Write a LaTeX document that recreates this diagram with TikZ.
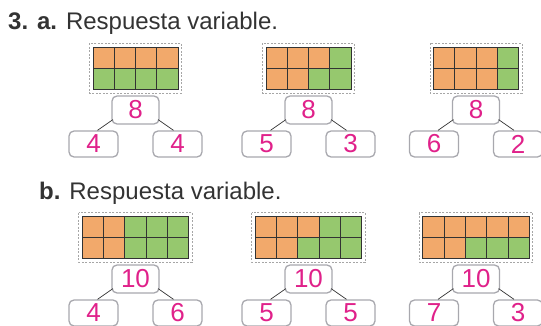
\documentclass[tikz,border=0pt]{standalone}
\usepackage{fontspec}
\setmainfont{Liberation Sans}
\definecolor{cellorange}{HTML}{F2A96B}
\definecolor{cellgreen}{HTML}{96C86E}
\definecolor{boxgray}{HTML}{A8A8AE}
\definecolor{numpink}{HTML}{E0218A}
\definecolor{titlegray}{HTML}{333333}

\newcommand{\numbond}[9]{
	\begin{scope}[shift={(#1,#2)}]

		% Cells (orange first, then green)
		\foreach \c in {1,...,#3} {
			\ifnum\c>#4 \def\topfill{cellgreen}\else\def\topfill{cellorange}\fi
			\ifnum\c>#5 \def\botfill{cellgreen}\else\def\botfill{cellorange}\fi
			\filldraw[cell, fill=\topfill] ({(\c-1)*21.3-#3*10.65},0) rectangle ++(21.3,21.3);
			\filldraw[cell, fill=\botfill] ({(\c-1)*21.3-#3*10.65},21.3) rectangle ++(21.3,21.3);
		}

		% Dashed frame
		\draw[frame] ({-#3*10.65-3.5},-3.5) rectangle ({#3*10.65+3.5},46);

		% Boxes
		\node[sumbox] (#9t) at (0,63) {#6};
		\node[partbox] (#9l) at (-42,97) {#7};
		\node[partbox] (#9r) at (42,97) {#8};

		% Links
		\draw[link] ([shift={(1.5,-5)}]#9t.south west) -- ([xshift=4pt]#9l.north);
		\draw[link] ([shift={(-1.5,-5)}]#9t.south east) -- ([xshift=-4pt]#9r.north);

	\end{scope}
}

\begin{document}
\begin{tikzpicture}[
	x=1pt, y=-1pt,
	cell/.style={draw=black!80, line width=0.8pt},
	frame/.style={draw=black!35, dash pattern=on 2pt off 1.5pt, line width=0.6pt},
	sumbox/.style={
		draw=boxgray,
		fill=white,
		rounded corners=5pt,
		line width=1.3pt,
		minimum width=47pt,
		minimum height=28pt,
		inner sep=0pt,
		text=numpink,
		font=\fontsize{26}{26}\selectfont
	},
	partbox/.style={sumbox, minimum width=49pt, minimum height=26pt},
	link/.style={draw=black!80, line width=0.7pt},
	heading/.style={anchor=base west, inner sep=0pt, text=titlegray, font=\fontsize{24}{24}\selectfont}
	]

	\useasboundingbox (0,0) rectangle (541,326);

	% Part a
	\node[heading] (ta) at (8,30) {\textbf{3. a.} Respuesta variable.};
	\numbond{135.5}{47}{4}{4}{0}{8}{4}{4}{aa}
	\numbond{308.5}{47}{4}{3}{2}{8}{5}{3}{ab}
	\numbond{476}{47}{4}{3}{3}{8}{6}{2}{ac}

	% Part b
	\node[heading] (tb) at (39,200) {\textbf{b.} Respuesta variable.};
	\numbond{135.5}{216}{5}{2}{2}{10}{4}{6}{ba}
	\numbond{308.5}{216}{5}{3}{2}{10}{5}{5}{bb}
	\numbond{476}{216}{5}{5}{2}{10}{7}{3}{bc}

\end{tikzpicture}
\end{document}
